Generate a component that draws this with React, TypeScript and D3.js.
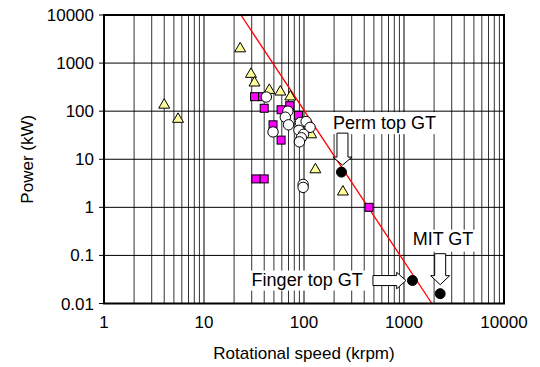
import React from 'react';
import * as d3 from 'd3';

// values (speed in krpm, power in kW)
const triangleSpeed = [4, 5.5, 23, 29.5, 32, 45, 58, 73, 118, 130, 245];
const trianglePower = [128, 65, 1900, 560, 370, 260, 240, 190, 31, 5.8, 2];
const squareSpeed = [32, 38.5, 40, 59, 72, 88, 49, 59, 33, 40, 447];
const squarePower = [200, 200, 115, 107, 130, 82, 52, 25, 3.9, 3.9, 1];
const circleSpeed = [42, 69, 65, 70, 49, 92, 105, 115, 89, 99, 94, 90, 98, 98];
const circlePower = [197, 100, 75, 52, 37, 58, 61, 46, 40, 33, 28, 23, 3.0, 2.6];
const gtNames = ['Perm top GT', 'Finger top GT', 'MIT GT'];
const gtSpeed = [237, 1215, 2300];
const gtPower = [5.4, 0.03, 0.016];
const limitSpeed = [23.4, 1900];
const limitPower = [10000, 0.01];
const xTicks = [1, 10, 100, 1000, 10000];
const yTicks = [0.01, 0.1, 1, 10, 100, 1000, 10000];

const W = 540;
const H = 367;
const margin = { left: 104, right: 36, top: 15, bottom: 63.5 };
const font = '"Liberation Sans", Arial, sans-serif';

export default function App() {
  const x = d3.scaleLog().domain([1, 10000]).range([margin.left, W - margin.right]);
  const y = d3.scaleLog().domain([0.01, 10000]).range([H - margin.bottom, margin.top]);
  const [x0, x1] = x.range();
  const [y0, y1] = y.range();

  // every 1..9 within each decade
  const minorX: number[] = [];
  for (let d = 1; d < 10000; d *= 10) for (let k = 2; k <= 9; k++) minorX.push(d * k);

  const line = d3.line<number>().x((v) => x(v)).y((_, i) => y(limitPower[i]));

  const tri = d3.symbol().type(d3.symbolTriangle).size(52);

  // annotation layout: label + block arrow around each GT point
  const ann = gtNames.map((name, i) => {
    const px = x(gtSpeed[i]);
    const py = y(gtPower[i]);
    if (i === 0) {
      return { name, anchor: 'start', tx: px - 8.5, ty: py - 42.7, box: [px - 13, py - 60, 112, 22], dir: 'down', ax: px + 1, ay: py - 7, len: 32, head: 8 };
    }
    if (i === 1) {
      return { name, anchor: 'end', tx: px - 49.8, ty: py + 5.7, box: [px - 166, py - 10, 120, 20], dir: 'right', ax: px - 6.5, ay: py, len: 33, head: 9.3 };
    }
    return { name, anchor: 'start', tx: px - 27.5, ty: py - 48.3, box: [px - 31, py - 64, 70, 22], dir: 'down', ax: px, ay: py - 9, len: 31, head: 9 };
  });

  const arrowPath = (a: any) => {
    const sw = 5.5;
    const hw = 9.5;
    if (a.dir === 'down') {
      const t = a.ay - a.len;
      const h = a.ay - a.head;
      return `M${a.ax - sw},${t}H${a.ax + sw}V${h}H${a.ax + hw}L${a.ax},${a.ay}L${a.ax - hw},${h}H${a.ax - sw}Z`;
    }
    const t = a.ax - a.len;
    const h = a.ax - a.head;
    return `M${t},${a.ay - 5}H${h}V${a.ay - 8.3}L${a.ax},${a.ay}L${h},${a.ay + 8.3}V${a.ay + 5}H${t}Z`;
  };

  return (
    <div style={{ position: 'absolute', left: 0, top: 0 }}>
      <svg width={W} height={H} style={{ display: 'block', background: 'white' }} fontFamily={font}>
        {/* minor vertical gridlines */}
        {minorX.map((v) => (
          <line key={'mx' + v} x1={x(v)} x2={x(v)} y1={y1} y2={y0} stroke="#333" strokeWidth={1} />
        ))}
        {xTicks.map((v) => (
          <line key={'gx' + v} x1={x(v)} x2={x(v)} y1={y1} y2={y0} stroke="#000" strokeWidth={1} />
        ))}
        {yTicks.map((v) => (
          <line key={'gy' + v} x1={x0} x2={x1} y1={y(v)} y2={y(v)} stroke="#000" strokeWidth={1} />
        ))}

        {/* limit line */}
        <path d={line(limitSpeed) || ''} fill="none" stroke="#ff0000" strokeWidth={1.3} />

        {triangleSpeed.map((v, i) => (
          <path key={'t' + i} d={tri() || ''} transform={`translate(${x(v)},${y(trianglePower[i]) - 1})`} fill="#ffff99" stroke="#000" strokeWidth={1} />
        ))}
        {squareSpeed.map((v, i) => (
          <rect key={'s' + i} x={x(v) - 4} y={y(squarePower[i]) - 4} width={8} height={8} fill="#ff00ff" stroke="#000" strokeWidth={1} />
        ))}
        {circleSpeed.map((v, i) => (
          <circle key={'c' + i} cx={x(v)} cy={y(circlePower[i])} r={5.2} fill="#fff" stroke="#000" strokeWidth={1} />
        ))}
        {gtSpeed.map((v, i) => (
          <circle key={'g' + i} cx={x(v)} cy={y(gtPower[i])} r={5} fill="#000" stroke="#000" strokeWidth={1} />
        ))}

        {/* annotations */}
        {ann.map((a) => (
          <g key={a.name}>
            <rect x={a.box[0]} y={a.box[1]} width={a.box[2]} height={a.box[3]} fill="#fff" />
            <text x={a.tx} y={a.ty} textAnchor={a.anchor} fontSize={18} fill="#000">
              {a.name}
            </text>
            <path d={arrowPath(a)} fill="#fff" stroke="#000" strokeWidth={1} />
          </g>
        ))}

        {/* frame */}
        <rect x={x0} y={y1} width={x1 - x0} height={y0 - y1} fill="none" stroke="#000" strokeWidth={2} />

        {yTicks.map((v) => (
          <g key={'yt' + v}>
            <line x1={x0 - 5} x2={x0} y1={y(v)} y2={y(v)} stroke="#000" strokeWidth={1} />
            <text x={x0 - 10} y={y(v) + 6} textAnchor="end" fontSize={17}>
              {d3.format('~')(v)}
            </text>
          </g>
        ))}
        {xTicks.map((v) => (
          <text key={'xt' + v} x={x(v)} y={y0 + 24} textAnchor="middle" fontSize={17}>
            {v}
          </text>
        ))}

        <text x={(x0 + x1) / 2} y={H - 8} textAnchor="middle" fontSize={17}>
          Rotational speed (krpm)
        </text>
        <text transform={`translate(33,${(y0 + y1) / 2}) rotate(-90)`} textAnchor="middle" fontSize={17}>
          Power (kW)
        </text>
      </svg>
    </div>
  );
}
